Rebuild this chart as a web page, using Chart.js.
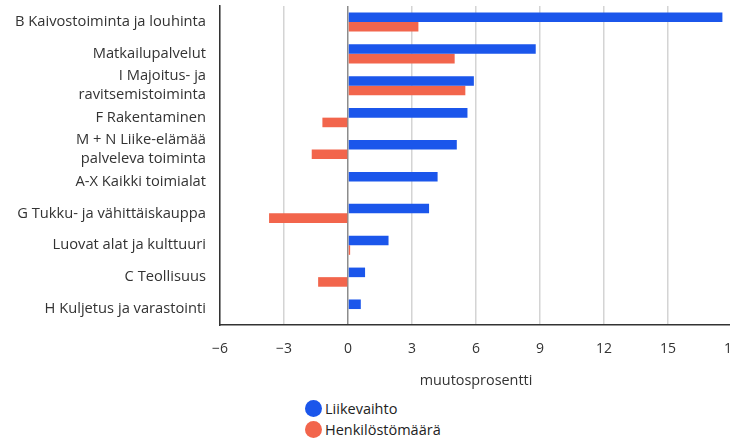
<!DOCTYPE html>
<html lang="fi">
<head>
<meta charset="utf-8">
<script src="https://cdn.jsdelivr.net/npm/chart.js@4"></script>
<style>
  html, body { margin: 0; padding: 0; background: #fff; overflow: hidden; }
  #wrap { position: relative; width: 730px; height: 440px; overflow: hidden; }
  #chart { position: absolute; left: 0; top: 0; }
  #legend { position: absolute; left: 305px; top: 398px; font: 14.5px "Open Sans", sans-serif; color: #222; }
  .legend-item { display: flex; align-items: center; height: 21px; }
  .legend-dot { width: 17px; height: 17px; border-radius: 50%; margin-right: 3px; }
</style>
</head>
<body>
<div id="wrap">
  <canvas id="chart" width="745" height="392"></canvas>
  <div id="legend"></div>
</div>
<script>
const categories = [
  "B Kaivostoiminta ja louhinta",
  "Matkailupalvelut",
  ["I Majoitus- ja", "ravitsemistoiminta"],
  "F Rakentaminen",
  ["M + N Liike-elämää", "palveleva toiminta"],
  "A-X Kaikki toimialat",
  "G Tukku- ja vähittäiskauppa",
  "Luovat alat ja kulttuuri",
  "C Teollisuus",
  "H Kuljetus ja varastointi"
];

const liikevaihto = [17.55, 8.8, 5.9, 5.6, 5.1, 4.2, 3.8, 1.9, 0.8, 0.6];
const henkilostomaara = [3.3, 5.0, 5.5, -1.2, -1.7, null, -3.7, 0.1, -1.4, null];

const seriesNames = ["Liikevaihto", "Henkilöstömäärä"];
const seriesColors = ["#1b56eb", "#f2654c"];

const xMin = -6;
const xMax = 18;
const xStep = 3;
const axisTitle = "muutosprosentti";

const fontFamily = '"Open Sans", sans-serif';

const chart = new Chart(document.getElementById("chart"), {
  type: "bar",
  data: {
    labels: categories,
    datasets: [
      {
        label: seriesNames[0],
        data: liikevaihto,
        backgroundColor: seriesColors[0],
        borderWidth: 0
      },
      {
        label: seriesNames[1],
        data: henkilostomaara,
        backgroundColor: seriesColors[1],
        borderWidth: 0
      }
    ]
  },
  options: {
    indexAxis: "y",
    responsive: false,
    animation: false,
    datasets: {
      bar: {
        categoryPercentage: 0.6,
        barPercentage: 1
      }
    },
    layout: {
      padding: { top: 6, right: 13, left: 0, bottom: 0 }
    },
    plugins: {
      legend: { display: false },
      tooltip: { enabled: false }
    },
    scales: {
      x: {
        min: xMin,
        max: xMax,
        ticks: {
          stepSize: xStep,
          padding: 16,
          color: "#333",
          font: { family: fontFamily, size: 14 },
          callback: (value) => String(value).replace("-", "\u2212")
        },
        grid: {
          drawTicks: false,
          color: (context) =>
            context.tick && context.tick.value === 0 ? "#8c8c8c" : "#d4d4d4",
          lineWidth: 1.5
        },
        border: { color: "#333", width: 1.5 },
        title: {
          display: true,
          text: axisTitle,
          color: "#333",
          font: { family: fontFamily, size: 14.4 },
          padding: { top: 0, bottom: 2 }
        },
        afterFit: (scale) => {
          scale.height = 67;
          scale.paddingLeft = 0;
          scale.paddingRight = 0;
        }
      },
      y: {
        ticks: {
          autoSkip: false,
          padding: 6,
          color: "#333",
          font: { family: fontFamily, size: 14.7, lineHeight: 1.3 }
        },
        grid: { display: false },
        border: { color: "#333", width: 1.5 },
        afterFit: (scale) => {
          scale.width = 220;
          scale.paddingTop = 0;
          scale.paddingBottom = 0;
        }
      }
    }
  }
});

const legendElement = document.getElementById("legend");

chart.data.datasets.forEach((dataset) => {
  const item = document.createElement("div");
  item.className = "legend-item";

  const dot = document.createElement("span");
  dot.className = "legend-dot";
  dot.style.background = dataset.backgroundColor;

  const text = document.createElement("span");
  text.textContent = dataset.label;

  item.appendChild(dot);
  item.appendChild(text);
  legendElement.appendChild(item);
});
</script>
</body>
</html>
